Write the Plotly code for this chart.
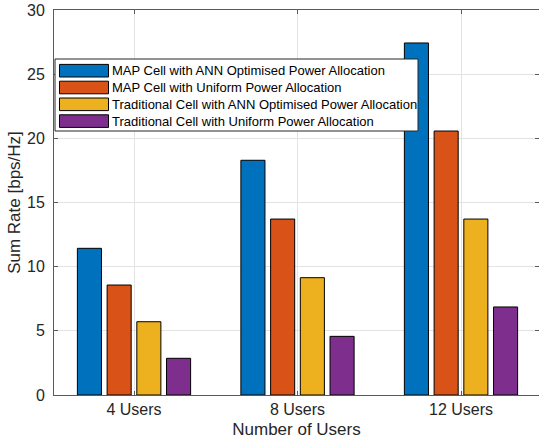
import plotly.graph_objects as go

categories = ["4 Users", "8 Users", "12 Users"]
series_names = [
    "MAP Cell with ANN Optimised Power Allocation",
    "MAP Cell with Uniform Power Allocation",
    "Traditional Cell with ANN Optimised Power Allocation",
    "Traditional Cell with Uniform Power Allocation",
]
map_ann = [11.43, 18.29, 27.43]
map_uniform = [8.57, 13.71, 20.57]
trad_ann = [5.71, 9.14, 13.71]
trad_uniform = [2.86, 4.57, 6.86]
series_values = [map_ann, map_uniform, trad_ann, trad_uniform]
colors = ["#0072BD", "#D95319", "#EDB120", "#7E2F8E"]
y_ticks = [0, 5, 10, 15, 20, 25, 30]

FONT = "Liberation Sans, Arial, Helvetica, sans-serif"
TXT = "#262626"
AX = "#5a5a5a"

xpos = [1, 2, 3]
fig = go.Figure()
for name, vals, c in zip(series_names, series_values, colors):
    fig.add_trace(go.Bar(
        x=xpos, y=vals, name=name,
        marker=dict(color=c, line=dict(color="#000000", width=1)),
        showlegend=False,
    ))

W, H = 539, 445
ml, mr, mt, mb = 54, 0, 10, 50
pw = W - ml - mr
ph = H - mt - mb
px_per_unit = 163.5
x0 = 1 - 80 / px_per_unit

fig.update_layout(
    width=W, height=H,
    margin=dict(l=ml, r=mr, t=mt, b=mb, autoexpand=False),
    paper_bgcolor="white", plot_bgcolor="white",
    barmode="group", bargap=0.273, bargroupgap=0.19,
    font=dict(family=FONT, color=TXT, size=16),
    xaxis=dict(
        range=[x0, x0 + pw / px_per_unit],
        tickmode="array", tickvals=xpos, ticktext=categories,
        showgrid=True, gridcolor="#E3E3E3", gridwidth=1,
        showline=True, linecolor=AX, linewidth=1, mirror="ticks",
        ticks="inside", ticklen=4, tickcolor=AX,
        tickfont=dict(size=16, color=TXT),
        title=dict(text="Number of Users", font=dict(size=17, color=TXT), standoff=5),
        zeroline=False,
    ),
    yaxis=dict(
        range=[0, 30],
        tickmode="array", tickvals=y_ticks,
        showgrid=True, gridcolor="#E3E3E3", gridwidth=1,
        showline=True, linecolor=AX, linewidth=1, mirror="ticks",
        ticks="inside", ticklen=4, tickcolor=AX,
        tickfont=dict(size=16, color=TXT),
        ticklabelstandoff=5,
        title=dict(text="Sum Rate [bps/Hz]", font=dict(size=17, color=TXT), standoff=2),
        zeroline=False,
    ),
)

# custom legend (MATLAB style wide swatches); positions in window pixels
def px2x(p):
    return (p - ml) / pw

def py2y(p):
    return (H - mb - p) / ph

box_l, box_r, box_t, box_b = 55, 418, 59, 131
fig.add_shape(type="rect", xref="paper", yref="paper",
              x0=px2x(box_l), x1=px2x(box_r), y0=py2y(box_b), y1=py2y(box_t),
              fillcolor="white", line=dict(color=TXT, width=1), layer="above")
row0, row_step = 70.7, 16.8
for i, (name, c) in enumerate(zip(series_names, colors)):
    cy = row0 + i * row_step
    fig.add_shape(type="rect", xref="paper", yref="paper",
                  x0=px2x(59.5), x1=px2x(108.5), y0=py2y(cy + 6.3), y1=py2y(cy - 6.3),
                  fillcolor=c, line=dict(color="#000000", width=1), layer="above")
    fig.add_annotation(xref="paper", yref="paper", x=px2x(110), y=py2y(cy),
                       text=name, showarrow=False, xanchor="left", yanchor="middle",
                       font=dict(size=13, color="#000000", family=FONT))

fig.write_html("out.html",
               config={"displayModeBar": False},
               post_script="document.body.style.margin='0px';document.body.style.overflow='hidden';")
